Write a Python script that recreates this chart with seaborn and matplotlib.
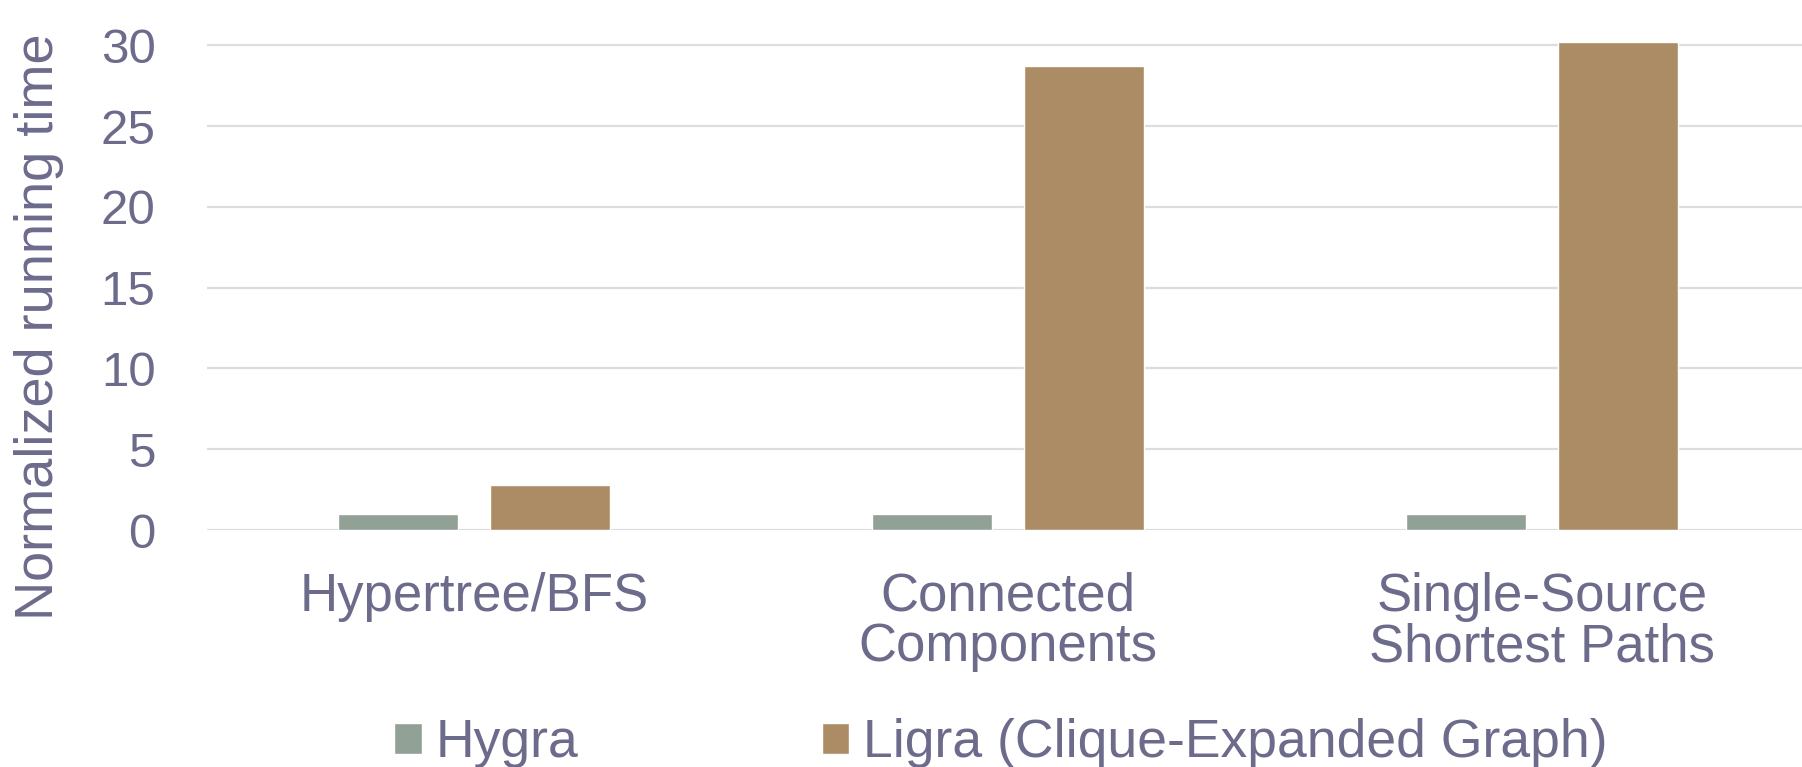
import matplotlib
matplotlib.use("Agg")
import matplotlib.pyplot as plt
import seaborn as sns
import pandas as pd

# Benchmark results: running time normalized to Hygra
algorithms = ["Hypertree/BFS", "Connected\nComponents", "Single-Source\nShortest Paths"]
systems = ["Hygra", "Ligra (Clique-Expanded Graph)"]
hygra_times = [1.0, 1.0, 1.0]
ligra_times = [2.8, 28.7, 30.2]
y_ticks = [0, 5, 10, 15, 20, 25, 30]

df = pd.DataFrame({
    "algorithm": algorithms * 2,
    "system": [systems[0]] * 3 + [systems[1]] * 3,
    "time": hygra_times + ligra_times,
})

TEXT = "#6C6B8C"
GRID = "#DCDCE3"
COLORS = ["#92A195", "#AB8C65"]

sns.set_theme(style="white")
plt.rcParams["font.family"] = ["Liberation Sans", "DejaVu Sans"]

W, H = 1802, 767
fig = plt.figure(figsize=(W / 100, H / 100), dpi=100)
left, right, top, bottom = 207, 1809, 0, 530
ax = fig.add_axes([left / W, (H - bottom) / H, (right - left) / W, (bottom - top) / H])

sns.barplot(data=df, x="algorithm", y="time", hue="system", order=algorithms,
            hue_order=systems, palette=COLORS, width=0.568, gap=0.21,
            saturation=1, errorbar=None, ax=ax, zorder=3)

ax.set_xlim(-0.5, 2.5)
ax.set_ylim(0, 32.8)
ax.set_yticks(y_ticks)
ax.yaxis.grid(True, color=GRID, linewidth=1.6, zorder=0)
ax.xaxis.grid(False)
for s in ax.spines.values():
    s.set_visible(False)
ax.tick_params(axis="both", length=0, colors=TEXT)
ax.tick_params(axis="y", pad=37, labelsize=35.5)
ax.tick_params(axis="x", pad=30, labelsize=38)
for lbl in ax.get_xticklabels():
    lbl.set_linespacing(1.02)

ax.set_xlabel("")
ax.set_ylabel("Normalized running time", fontsize=39, color=TEXT)
ax.yaxis.set_label_coords(-0.089, 0.383)

handles, labels = ax.get_legend_handles_labels()
ax.get_legend().remove()
fig.legend(handles, labels, loc="center", bbox_to_anchor=(1001 / W, 23.5 / H),
           ncol=2, frameon=False, fontsize=38.5, labelcolor=TEXT,
           handlelength=0.51, handleheight=0.5, handletextpad=0.26,
           columnspacing=4.55, borderpad=0, borderaxespad=0)

fig.savefig("out.png", dpi=100)
